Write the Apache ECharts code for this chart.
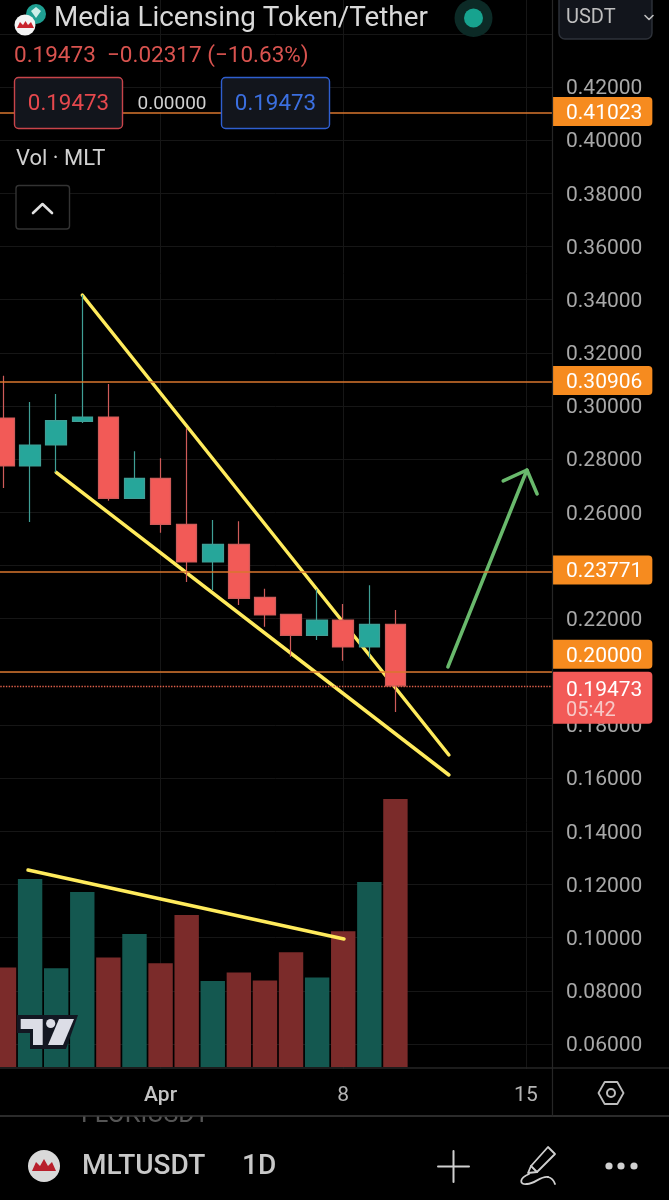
<!DOCTYPE html>
<html lang="en">
<head>
<meta charset="UTF-8">
<title>MLTUSDT 1D</title>
<style>
  html, body { margin: 0; padding: 0; background: #000; }
  #chart { width: 669px; height: 1200px; }
</style>
</head>
<body>
<div id="chart"></div>
<script src="https://cdn.jsdelivr.net/npm/echarts@6/dist/echarts.min.js"></script>
<script>
// one leading day sits off the left edge, so the gridlines reach x=0
var categories = ['Mar 25','Mar 26','Mar 27','Mar 28','Mar 29','Mar 30','Mar 31','Apr 1','Apr 2','Apr 3','Apr 4','Apr 5',
  'Apr 6','Apr 7','Apr 8','Apr 9','Apr 10','Apr 11','Apr 12','Apr 13','Apr 14','Apr 15','Apr 16'];
var opens  = [null, 0.29548, 0.27743, 0.28533, 0.29424, 0.29586, 0.26528, 0.27280, 0.25550, 0.24131, 0.24797, 0.22803, 0.22164, 0.21374, 0.21950, 0.20934, 0.21788];
var closes = [null, 0.27743, 0.28533, 0.29447, 0.29586, 0.26528, 0.27280, 0.25550, 0.24131, 0.24797, 0.22766, 0.22138, 0.21374, 0.21950, 0.20934, 0.21788, 0.19473];
var lows   = [null, 0.26915, 0.25636, 0.27506, 0.29360, 0.26437, 0.26501, 0.25233, 0.23379, 0.23078, 0.22514, 0.21698, 0.20570, 0.21197, 0.20419, 0.20509, 0.18489];
var highs  = [null, 0.31140, 0.30150, 0.30451, 0.34175, 0.30828, 0.28296, 0.28032, 0.29172, 0.25712, 0.25663, 0.23127, 0.22164, 0.23105, 0.22552, 0.23255, 0.22326];
var volumes = [null, 99.4, 188, 98.7, 175, 109.4, 133, 103.7, 152, 86, 94.4, 86.4, 114.7, 89.4, 135.7, 185, 268];

var levels = [0.41023, 0.30906, 0.23771, 0.20000];
var lastPrice = 0.19473;
var dateTicks = { 'Apr 1': 'Apr', 'Apr 8': '8', 'Apr 15': '15' };
// tick labels the reference has covered by the price tags and the USDT button
var hiddenTicks = ['0.44000', '0.24000', '0.20000'];

// drawings, as [day index, price]
var upperTrend  = [[4, 0.34175], [18.05, 0.16871]];
var lowerTrend  = [[3, 0.27506], [18.05, 0.16119]];
var volumeTrend = [[1.92, 0.12545], [14.03, 0.09950]];
var arrowShaft  = [[18.01, 0.20182], [21.04, 0.27592]];
var arrowHead   = [[20.13, 0.27180], [21.04, 0.27592], [21.43, 0.26689]];

var GREEN = '#26a69a', RED = '#f25a57', ORANGE = '#f68b1f', LINE_ORANGE = '#d9762e';
var YELLOW = '#ffeb5c', ARROW = '#69b96c', GRID = '#161616', AXIS_TEXT = '#a8a8a8';
var FONT = 'Roboto';

var candles = categories.map(function (c, i) {
  if (opens[i] == null) return ['-', '-', '-', '-'];
  return [opens[i], closes[i], lows[i], highs[i]];
});

function drawing(name, points, color, width, z) {
  return {
    name: name, type: 'line', xAxisIndex: 2, yAxisIndex: 0, data: points, symbol: 'none', z: z, silent: true,
    lineStyle: { color: color, width: width, cap: 'round', join: 'round' }
  };
}

var levelLines = levels.map(function (v) {
  return {
    yAxis: v,
    label: { offset: [0, v === 0.2 ? -17.5 : -1.5] }
  };
});
levelLines.push({
  yAxis: lastPrice,
  lineStyle: { type: 'dotted', color: '#e0604a', width: 1.4 },
  label: {
    backgroundColor: RED,
    offset: [0, 12],
    padding: [5, 10, 1, 14],
    formatter: '{a|0.19473}\n{b|05:42}',
    rich: {
      a: { color: '#fff', fontSize: 21, fontFamily: FONT, lineHeight: 23 },
      b: { color: '#f7c9c7', fontSize: 20, fontFamily: FONT, lineHeight: 23 }
    }
  }
});

var upperSeries = drawing('upper', upperTrend, YELLOW, 3.5, 1);
upperSeries.markLine = {
  silent: true, symbol: 'none', animation: false, precision: 5,
  lineStyle: { color: LINE_ORANGE, width: 1.5, type: 'solid' },
  label: {
    position: 'end', distance: 0, color: '#fff', fontSize: 21, fontFamily: FONT,
    backgroundColor: ORANGE, padding: [3, 10, 4, 14], borderRadius: [0, 4, 4, 0],
    formatter: function (p) { return '{a|' + Number(p.value).toFixed(5) + '}'; },
    rich: { a: { color: '#fff', fontSize: 21, fontFamily: FONT, lineHeight: 22, padding: [5, 0, 0, 0] } }
  },
  data: levelLines
};

function text(str, x, y, size, color, extra) {
  // Roboto sits about 2px high when middle aligned
  var s = { text: str, x: x, y: y + 2, font: (extra && extra.weight || '400') + ' ' + size + 'px ' + FONT, fill: color, verticalAlign: 'middle', align: extra && extra.align || 'left' };
  return { type: 'text', z: (extra && extra.z) || 12, silent: true, style: s };
}
function box(x, y, w, h, r, fill, stroke, z) {
  return { type: 'rect', z: z || 11, silent: true, shape: { x: x, y: y, width: w, height: h, r: r }, style: { fill: fill, stroke: stroke, lineWidth: 1.4 } };
}
function line(x1, y1, x2, y2, color, w, z) {
  return { type: 'line', z: z || 11, silent: true, shape: { x1: x1, y1: y1, x2: x2, y2: y2 }, style: { stroke: color, lineWidth: w, lineCap: 'round' } };
}
function poly(points, fill, z) {
  return { type: 'polygon', z: z, silent: true, shape: { points: points }, style: { fill: fill } };
}
function outline(points, color, w, z, closed) {
  return { type: closed ? 'polygon' : 'polyline', z: z, silent: true, shape: { points: points }, style: { fill: null, stroke: color, lineWidth: w, lineCap: 'round', lineJoin: 'round' } };
}
function curve(x1, y1, cx1, cy1, cx2, cy2, x2, y2, color, w, z) {
  return { type: 'bezierCurve', z: z, silent: true, shape: { x1: x1, y1: y1, cpx1: cx1, cpy1: cy1, cpx2: cx2, cpy2: cy2, x2: x2, y2: y2 }, style: { fill: null, stroke: color, lineWidth: w, lineCap: 'round' } };
}
function circle(x, y, r, fill, z, stroke) {
  return { type: 'circle', z: z, silent: true, shape: { cx: x, cy: y, r: r }, style: { fill: fill, stroke: stroke || null, lineWidth: 2 } };
}

var graphics = [
  // bottom strips hide the price axis below 0.06
  text('FLOKIUSDT', 81, 1114, 25, '#555', { z: 6 }),
  box(0, 1069, 669, 47, 0, '#000', null, 7),
  line(0, 1068, 669, 1068, '#262626', 1.4, 8),
  line(0, 1116, 669, 1116, '#3a3a3a', 1.6, 8),
  line(552.5, 0, 552.5, 1116, '#262626', 1.2, 8),

  // header
  circle(36, 14, 10, '#1f9f92', 11),
  poly([[31, 11], [36, 7], [41, 11], [36, 18]], '#cdeee9', 12),
  circle(25, 25, 10.5, '#f4f4f4', 12),
  poly([[17, 28], [20, 22], [23, 25], [25.5, 21], [28, 25], [31, 22], [34, 28]], '#c8232c', 13),
  text('Media Licensing Token/Tether', 54, 17, 27.8, '#d9d9d9'),
  circle(473.5, 18, 19, '#0c2a26', 11),
  circle(473.5, 18, 9.5, '#17a38f', 12),
  box(559, -6, 93, 45, 6, '#12151c', '#2e323a'),
  text('USDT', 566, 16, 20, '#bfbfbf'),
  outline([[645, 15.5], [649, 19.5], [653, 15.5]], '#bfbfbf', 1.6, 12),

  text('0.19473  \u22120.02317 (\u221210.63%)', 14, 54, 22.5, '#d9534f'),

  box(14.5, 77.5, 108, 51, 4, '#12151c', '#c8444a'),
  text('0.19473', 68.5, 102, 22.4, '#e5484d', { align: 'center' }),
  box(124, 96, 96, 16, 0, '#000', null),
  text('0.00000', 172, 102, 19, '#d0d0d0', { align: 'center' }),
  box(221.5, 77.5, 108, 51, 4, '#12151c', '#2f5fd0'),
  text('0.19473', 275.5, 102, 22.4, '#3b6fe0', { align: 'center' }),

  text('Vol \u00b7 MLT', 16, 157, 22, '#d0d0d0'),
  box(16, 185.5, 53.5, 43.5, 3, '#000', '#333'),
  outline([[33, 213], [42.5, 204], [52, 213]], '#e0e0e0', 2.6, 12),

  // TradingView mark
  poly([[17, 1015], [78, 1015], [66, 1049], [30, 1049], [30, 1033], [17, 1033]], '#131722', 9),
  poly([[20.7, 1019], [42.7, 1019], [42.7, 1045], [33, 1045], [33, 1029], [20.7, 1029]], '#dcdde6', 10),
  poly([[59, 1019], [74, 1019], [63, 1045], [48, 1045]], '#dcdde6', 10),
  circle(50.7, 1023.5, 4.6, '#dcdde6', 10),

  // axis corner + footer
  outline([[598.5, 1093], [604.7, 1082], [617.3, 1082], [623.5, 1093], [617.3, 1104], [604.7, 1104]], '#bdbdbd', 1.8, 12, true),
  circle(611, 1093, 4, null, 12, '#bdbdbd'),

  circle(44, 1166, 16, '#d9d9d9', 12),
  poly([[32, 1171], [36, 1162], [40, 1166], [44, 1159], [48, 1166], [52, 1162], [56, 1171]], '#b81f2b', 13),
  text('MLTUSDT', 82, 1165, 28, '#c8c8c8', { weight: '500' }),
  text('1D', 242, 1165, 28, '#c8c8c8', { weight: '500' }),
  line(438, 1166.5, 469, 1166.5, '#d0d0d0', 2),
  line(453.5, 1151, 453.5, 1182, '#d0d0d0', 2),
  outline([[528, 1173], [531, 1166], [548, 1147], [555, 1154], [537, 1172]], '#d0d0d0', 1.8, 12, true),
  line(531, 1166, 537, 1172, '#d0d0d0', 1.8, 12),
  curve(529, 1174, 519, 1178, 519, 1185, 527, 1184, '#d0d0d0', 1.8, 12),
  curve(527, 1184, 535, 1184, 540, 1176, 548, 1177, '#d0d0d0', 1.8, 12),
  curve(548, 1177, 552, 1178, 554, 1181, 555, 1184, '#d0d0d0', 1.8, 12),
  circle(609, 1166, 3.6, '#d0d0d0', 12),
  circle(621, 1166, 3.6, '#d0d0d0', 12),
  circle(634, 1166, 3.6, '#d0d0d0', 12)
];

var chart = echarts.init(document.getElementById('chart'));
chart.setOption({
  animation: false,
  backgroundColor: '#000',
  grid: [
    { left: -22.095, width: 574.095, top: -19.33, height: 1116.48, containLabel: false, outerBoundsMode: 'none' },
    { left: -22.095, width: 574.095, top: 767, height: 300, containLabel: false, outerBoundsMode: 'none' }
  ],
  xAxis: [
    {
      type: 'category', gridIndex: 0, data: categories, boundaryGap: false,
      axisLine: { show: false }, axisTick: { show: false }, axisLabel: { show: false },
      splitLine: {
        show: true, lineStyle: { color: GRID, width: 1 },
        interval: function (i, v) { return dateTicks[v] != null; }
      }
    },
    {
      type: 'category', gridIndex: 1, data: categories, boundaryGap: false, z: 10,
      axisLine: { show: false }, axisTick: { show: false }, splitLine: { show: false },
      axisLabel: {
        margin: 18, color: '#b4b4b4', fontSize: 21, fontFamily: FONT, hideOverlap: false,
        interval: function (i, v) { return dateTicks[v] != null; },
        formatter: function (v) { return v === 'Apr 1' ? '{m|Apr}' : dateTicks[v]; },
        rich: { m: { color: '#c4c4c4', fontSize: 21, fontWeight: 500, fontFamily: FONT } }
      }
    },
    { type: 'value', gridIndex: 0, min: 0, max: 22, show: false }
  ],
  yAxis: [
    {
      type: 'value', gridIndex: 0, position: 'right', min: 0.04, max: 0.46, interval: 0.02,
      axisLine: { show: false }, axisTick: { show: false },
      splitLine: { show: true, lineStyle: { color: GRID, width: 1 } },
      axisLabel: {
        margin: 14, showMinLabel: true, showMaxLabel: true,
        formatter: function (v) {
          var s = v.toFixed(5);
          return hiddenTicks.indexOf(s) >= 0 ? '' : '{v|' + s + '}';
        },
        rich: { v: { color: AXIS_TEXT, fontSize: 21, fontFamily: FONT, lineHeight: 22, padding: [4, 0, 0, 0] } }
      }
    },
    {
      type: 'value', gridIndex: 1, min: 0, max: 300, show: false
    }
  ],
  series: [
    {
      name: 'Vol', type: 'bar', xAxisIndex: 1, yAxisIndex: 1, data: volumes, barWidth: 24.4, z: 2, clip: false, silent: true,
      itemStyle: {
        color: function (p) { return closes[p.dataIndex] >= opens[p.dataIndex] ? '#145850' : '#7b2b2a'; }
      }
    },
    upperSeries,
    drawing('lower', lowerTrend, YELLOW, 3.5, 1),
    {
      name: 'MLTUSDT', type: 'candlestick', xAxisIndex: 0, yAxisIndex: 0, data: candles, barWidth: 21, z: 2, clip: false, silent: true,
      itemStyle: { color: GREEN, color0: RED, borderColor: '#3f9f96', borderColor0: '#cf5b59', borderWidth: 1.2 }
    },
    drawing('volume trend', volumeTrend, YELLOW, 3.5, 3),
    drawing('arrow', arrowShaft, ARROW, 3.5, 3),
    drawing('arrow head', arrowHead, ARROW, 3.5, 3)
  ],
  graphic: graphics
});
</script>
</body>
</html>
